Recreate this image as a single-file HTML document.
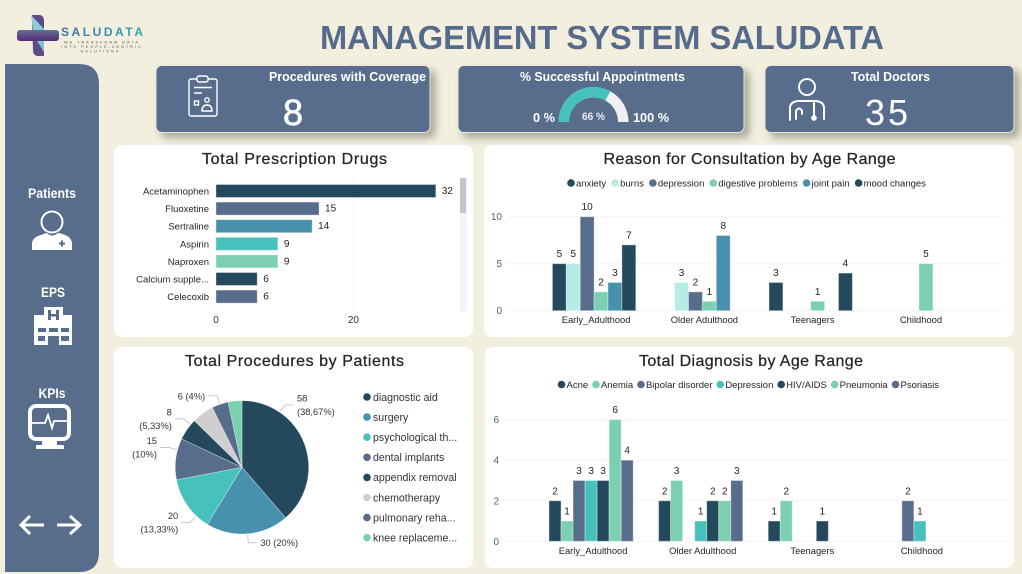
<!DOCTYPE html>
<html lang="en">
<head>
<meta charset="utf-8">
<title>Management System Saludata</title>
<style>
html,body{margin:0;padding:0;background:#f2efdf;width:1022px;height:574px;overflow:hidden}
svg{display:block;font-family:"Liberation Sans",sans-serif}
.card{filter:drop-shadow(5px 5px 4px rgba(70,70,50,.42))}
.nav{fill:#fff;font-size:13.5px;font-weight:bold;text-anchor:middle}
.ct{fill:#252423;font-size:16px;text-anchor:middle;stroke:#252423;stroke-width:.25}
.kt{fill:#fff;font-size:13px;font-weight:bold}
</style>
</head>
<body>
<svg id="dash" xmlns="http://www.w3.org/2000/svg" width="1022" height="574" viewBox="0 0 1022 574">
<defs>
<linearGradient id="crossGrad" x1="0" y1="0" x2="0" y2="1"><stop offset="0" stop-color="#5f7093"/><stop offset="1" stop-color="#5a2a78"/></linearGradient>
<linearGradient id="logoText" x1="0" y1="0" x2="1" y2="0"><stop offset="0" stop-color="#3f6fa8"/><stop offset="1" stop-color="#3aa4b8"/></linearGradient>
</defs>
<rect width="1022" height="574" fill="#f2efdf"/>

<g>
<path d="M32 15H40Q44 16 44 21V56H37Q33 55 33 50Z" fill="#5d4a86"/>
<path d="M31 15 L44 29 V47 L34 33Z" fill="#8ccbd8"/>
<rect x="17" y="30" width="42" height="11" rx="3" fill="url(#crossGrad)"/>
<path d="M37 41 L44 41 L44 52Z" fill="#7fc4d4"/>
<text x="61" y="36" font-size="12" font-weight="bold" fill="url(#logoText)" textLength="82" lengthAdjust="spacing">SALUDATA</text>
<text x="102" y="43.5" font-size="3.8" fill="#555" text-anchor="middle" letter-spacing="2">WE TRANSFORM DATA</text>
<text x="102" y="48" font-size="3.8" fill="#555" text-anchor="middle" letter-spacing="2">INTO PEOPLE-CENTRIC</text>
<text x="102" y="52.5" font-size="3.8" fill="#555" text-anchor="middle" letter-spacing="2">SOLUTIONS.</text>
</g>

<text x="320" y="49" font-size="33" font-weight="bold" fill="#566b8c" textLength="564" lengthAdjust="spacingAndGlyphs">MANAGEMENT SYSTEM SALUDATA</text>

<g>
<path d="M5 64H79Q99 64 99 84V552Q99 572 79 572H5Z" fill="#586c8c"/>
<g>
<text class="nav" x="52" y="198" textLength="48" lengthAdjust="spacingAndGlyphs">Patients</text>
<circle cx="52" cy="222" r="10.5" fill="none" stroke="#fff" stroke-width="2"/>
<path d="M32 250V243Q33 237 41 235Q46 233 47 233Q52 238 58 233Q60 233 65 235Q71 237 72 243V250Z" fill="#fff"/>
<path d="M62 240.5v6M59 243.5h6" stroke="#586c8c" stroke-width="2"/>
</g>
<g>
<text class="nav" x="53" y="297" textLength="24" lengthAdjust="spacingAndGlyphs">EPS</text>
<path fill="#fff" fill-rule="evenodd" d="M44 307H63V315H72V345H59V336H48V345H34V315H44ZM48 310V320H51V316.5H56V320H59V310H56V314H51V310ZM38 328V332H46V328ZM49 328V332H58V328ZM61 328V332H69V328ZM38 336V341H45V336ZM61 336V341H69V336Z"/>
</g>
<g>
<text class="nav" x="52" y="398" textLength="27" lengthAdjust="spacingAndGlyphs">KPIs</text>
<rect x="30" y="406" width="39" height="33" rx="6" fill="none" stroke="#fff" stroke-width="4"/>
<path d="M32 423H45L48 415L52 428L54 421H67" fill="none" stroke="#fff" stroke-width="1.8"/>
<rect x="42" y="441" width="15" height="5" fill="#fff"/>
<rect x="36" y="445" width="28" height="4" rx="1" fill="#fff"/>
</g>
<path d="M44 525H22M30 516L21 525L30 534" fill="none" stroke="#fff" stroke-width="3"/>
<path d="M57 525H79M70 516L80 525L70 534" fill="none" stroke="#fff" stroke-width="3"/>
</g>

<g>
<rect class="card" x="156" y="65.5" width="274" height="67" rx="6" fill="#586c8c" stroke="#e9e6d6"/>
<g fill="none" stroke="#fff" stroke-width="1.4">
<rect x="189" y="79" width="28" height="37" rx="2"/>
<rect x="197" y="76" width="11" height="6" rx="2" fill="#586c8c"/>
<path d="M194 87.5h18M194 93h8"/>
<rect x="194.5" y="101" width="4" height="4"/>
<circle cx="207" cy="100" r="2.2"/>
<path d="M202 111Q202 105 207 105Q212 105 212 111Z"/>
</g>
<text class="kt" x="269" y="81" textLength="157" lengthAdjust="spacingAndGlyphs">Procedures with Coverage</text>
<text x="293" y="125" font-size="36" fill="#fff" stroke="#fff" stroke-width=".7" text-anchor="middle">8</text>
</g>

<g>
<rect class="card" x="458" y="65.5" width="286" height="67" rx="6" fill="#586c8c" stroke="#e9e6d6"/>
<text class="kt" x="520" y="81" textLength="165" lengthAdjust="spacingAndGlyphs">% Successful Appointments</text>
<g id="gauge"></g>
<text x="533" y="122" font-size="12.5" font-weight="bold" fill="#fff" textLength="22" lengthAdjust="spacingAndGlyphs">0 %</text>
<text id="gaugeValue" x="593.5" y="120" font-size="11" font-weight="bold" fill="#e8ecf2" text-anchor="middle" textLength="23" lengthAdjust="spacingAndGlyphs"></text>
<text x="633" y="122" font-size="12.5" font-weight="bold" fill="#fff" textLength="36" lengthAdjust="spacingAndGlyphs">100 %</text>
</g>

<g>
<rect class="card" x="765" y="65.5" width="249" height="67" rx="6" fill="#586c8c" stroke="#e9e6d6"/>
<g fill="none" stroke="#fff" stroke-width="2" stroke-linecap="round">
<circle cx="807" cy="87" r="8"/>
<path d="M790 120V108Q790 102 798 101H816Q824 102 824 108V119"/>
<path d="M796 119V111Q799 106 802 111V114"/>
<path d="M814 101V117"/>
<circle cx="814" cy="118" r="1.8" fill="#fff"/>
</g>
<text class="kt" x="851" y="81" textLength="79" lengthAdjust="spacingAndGlyphs">Total Doctors</text>
<text x="888" y="125" font-size="36" fill="#fff" text-anchor="middle" letter-spacing="3">35</text>
</g>

<rect x="114" y="145" width="359" height="192" rx="8" fill="#fff"/>
<rect x="484" y="145" width="530" height="192" rx="8" fill="#fff"/>
<rect x="114" y="347" width="359" height="221" rx="8" fill="#fff"/>
<rect x="485" y="347" width="529" height="221" rx="8" fill="#fff"/>

<text class="ct" x="294.5" y="164" textLength="185" lengthAdjust="spacing">Total Prescription Drugs</text>
<text class="ct" x="749.5" y="164" textLength="292" lengthAdjust="spacing">Reason for Consultation by Age Range</text>
<text class="ct" x="294.5" y="366" textLength="219" lengthAdjust="spacing">Total Procedures by Patients</text>
<text class="ct" x="751" y="366" textLength="224" lengthAdjust="spacing">Total Diagnosis by Age Range</text>

<rect x="460" y="178" width="7" height="133" fill="#f4f4f4"/>
<rect x="460" y="178" width="6" height="35" fill="#c4c4c4"/>

<g id="drugsChart"></g>
<g id="consultChart"></g>
<g id="procChart"></g>
<g id="diagChart"></g>
</svg>

<script>
// ---------- chart data ----------
const gaugePercent = 66;

const drugNames = ['Acetaminophen','Fluoxetine','Sertraline','Aspirin','Naproxen','Calcium supple...','Celecoxib'];
const drugValues = [32,15,14,9,9,6,6];
const drugTicks = [0,20];

const consultCategories = ['Early_Adulthood','Older Adulthood','Teenagers','Childhood'];
const consultSeriesNames = ['anxiety','burns','depression','digestive problems','joint pain','mood changes'];
const consultAnxiety = [5,null,3,null];
const consultBurns = [5,3,null,null];
const consultDepression = [10,2,null,null];
const consultDigestive = [2,1,1,5];
const consultJointPain = [3,8,null,null];
const consultMoodChanges = [7,null,4,null];
const consultTicks = [0,5,10];

const diagCategories = ['Early_Adulthood','Older Adulthood','Teenagers','Childhood'];
const diagSeriesNames = ['Acne','Anemia','Bipolar disorder','Depression','HIV/AIDS','Pneumonia','Psoriasis'];
const diagAcne = [2,2,1,null];
const diagAnemia = [1,3,2,null];
const diagBipolar = [3,null,null,2];
const diagDepression = [3,1,null,1];
const diagHiv = [3,2,1,null];
const diagPneumonia = [6,2,null,null];
const diagPsoriasis = [4,3,null,null];
const diagTicks = [0,2,4,6];

const procNames = ['diagnostic aid','surgery','psychological th...','dental implants','appendix removal','chemotherapy','pulmonary reha...','knee replaceme...'];
const procValues = [58,30,20,15,8,8,6,5];
const procLabelLines = [['58','(38,67%)'],['30 (20%)'],['20','(13,33%)'],['15','(10%)'],['8','(5,33%)'],null,['6 (4%)'],null];

// ---------- palette and helpers ----------
const DARK='#24495c', SLATE='#586c8c', BLUE='#4790ae', TURQ='#47c1bb', MINT='#7ad0b0', PALE='#b5ece6', GREY='#cfcfcf';
const NS='http://www.w3.org/2000/svg';
function mk(parent,tag,attrs,txt){
  const e=document.createElementNS(NS,tag);
  for(const k in attrs)e.setAttribute(k,attrs[k]);
  if(txt!==undefined)e.textContent=txt;
  parent.appendChild(e);
  return e;
}

// ---------- gauge ----------
(function(){
  const g=document.getElementById('gauge');
  const cx=593.5,cy=122,ro=35,ri=24.5;
  function arc(a0,a1){
    const p=(r,a)=>[cx-r*Math.cos(a),cy-r*Math.sin(a)];
    const [x0,y0]=p(ro,a0),[x1,y1]=p(ro,a1),[x2,y2]=p(ri,a1),[x3,y3]=p(ri,a0);
    return `M${x0} ${y0}A${ro} ${ro} 0 0 1 ${x1} ${y1}L${x2} ${y2}A${ri} ${ri} 0 0 0 ${x3} ${y3}Z`;
  }
  const track=mk(g,'path',{d:arc(0,Math.PI),fill:'#f1efef'});
  
  
  const fill=mk(g,'path',{d:arc(0,Math.PI*gaugePercent/100),fill:TURQ});
  
  
  document.getElementById('gaugeValue').textContent=gaugePercent+' %';
})();

// ---------- horizontal bar chart ----------
(function(){
  const g=document.getElementById('drugsChart');
  const colors=[DARK,SLATE,BLUE,TURQ,MINT,DARK,SLATE];
  const x=v=>216+v*6.87;
  const rowY=i=>191+i*17.6;
  drugTicks.forEach(t=>{
    const l=mk(g,'line',{x1:x(t),x2:x(t),y1:178,y2:308,stroke:'#d4d4d4','stroke-dasharray':'1 3'});
    
    
    const tx=mk(g,'text',{x:x(t),y:323,'font-size':10,fill:'#333','text-anchor':'middle'},t);
    
    
  });
  drugValues.forEach((v,i)=>{
    const lab=mk(g,'text',{x:209,y:rowY(i)+3.5,'font-size':9.5,fill:'#252423','text-anchor':'end'},drugNames[i]);
    
    
    const r=mk(g,'rect',{x:x(0),y:rowY(i)-6.5,width:x(v)-x(0),height:13,fill:colors[i],stroke:'#fff','stroke-opacity':.35});
    
    
    const val=mk(g,'text',{x:x(v)+6,y:rowY(i)+3,'font-size':10,fill:'#252423'},v);
    
    
  });
})();

// ---------- grouped column charts ----------
function drawColumns(g,cfg){
  const y=v=>cfg.y0-v*cfg.unit;
  cfg.ticks.forEach(t=>{
    const l=mk(g,'line',{x1:cfg.gridX0,x2:cfg.gridX1,y1:y(t),y2:y(t),stroke:'#d4d4d4','stroke-dasharray':'1 3'});
    
    
    const tx=mk(g,'text',{x:cfg.tickX,y:y(t)+3.5,'font-size':10,fill:'#605e5c','text-anchor':'end'},t);
    
    
  });
  cfg.categories.forEach((c,ci)=>{
    const start=cfg.startX+ci*cfg.step;
    const cat=mk(g,'text',{x:start+cfg.barW*cfg.series.length/2+cfg.catShift,y:cfg.y0+cfg.catDy,'font-size':9.4,fill:'#252423','text-anchor':'middle'},c);
    
    
    cfg.series.forEach((s,si)=>{
      const v=s[ci];
      if(v===null)return;
      const bx=start+si*cfg.barW;
      const r=mk(g,'rect',{x:bx,y:y(v),width:cfg.barW,height:y(0)-y(v),fill:cfg.colors[si],stroke:'#fff','stroke-opacity':.35});
      
      
      const t=mk(g,'text',{x:bx+cfg.barW/2,y:y(v)-6.5,'font-size':10,fill:'#252423','text-anchor':'middle'},v);
      
      
    });
  });
  let lx=cfg.legendX;
  cfg.names.forEach((n,i)=>{
    const d=mk(g,'circle',{cx:lx,cy:cfg.legendY,r:3.8,fill:cfg.colors[i]});
    
    
    const t=mk(g,'text',{x:lx+5,y:cfg.legendY+3.3,'font-size':cfg.legendFont,fill:'#252423'},n);
    
    
    lx+=5+t.getComputedTextLength()+cfg.legendGap;
  });
}
drawColumns(document.getElementById('consultChart'),{
  categories:consultCategories,names:consultSeriesNames,
  series:[consultAnxiety,consultBurns,consultDepression,consultDigestive,consultJointPain,consultMoodChanges],
  ticks:consultTicks,colors:[DARK,PALE,SLATE,MINT,BLUE,DARK],
  y0:310.7,unit:9.4,startX:552.4,step:108.3,barW:13.9,catShift:2,catDy:12.5,
  gridX0:509,gridX1:1004,tickX:502,legendX:571,legendY:183,legendFont:9.5,legendGap:9
});
drawColumns(document.getElementById('diagChart'),{
  categories:diagCategories,names:diagSeriesNames,
  series:[diagAcne,diagAnemia,diagBipolar,diagDepression,diagHiv,diagPneumonia,diagPsoriasis],
  ticks:diagTicks,colors:[DARK,MINT,SLATE,TURQ,DARK,MINT,SLATE],
  y0:541.3,unit:20.27,startX:549,step:109.6,barW:12.03,catShift:2,catDy:12.5,
  gridX0:505,gridX1:1008,tickX:499,legendX:561.5,legendY:384.5,legendFont:9.5,legendGap:7.8
});

// ---------- pie chart ----------
(function(){
  const g=document.getElementById('procChart');
  const colors=[DARK,BLUE,TURQ,SLATE,DARK,GREY,SLATE,MINT];
  const leaderShift=[-35,0,-12,8,5,0,0,0];
  const cx=242,cy=467.3,R=66.7;
  const total=procValues.reduce((a,b)=>a+b,0);
  const pt=(r,deg)=>[cx+r*Math.sin(deg*Math.PI/180),cy-r*Math.cos(deg*Math.PI/180)];
  let cum=0;
  procValues.forEach((v,i)=>{
    const a0=cum/total*360, a1=(cum+v)/total*360;
    cum+=v;
    const [x0,y0]=pt(R,a0),[x1,y1]=pt(R,a1);
    const s=mk(g,'path',{d:`M${cx} ${cy}L${x0} ${y0}A${R} ${R} 0 ${a1-a0>180?1:0} 1 ${x1} ${y1}Z`,fill:colors[i],stroke:'#fff','stroke-opacity':.5,'stroke-width':.6});
    
    
    const lines=procLabelLines[i];
    if(lines){
      const b=(a0+a1)/2+leaderShift[i];
      const [sx,sy]=pt(R+1,b),[ex,ey]=pt(R+9,b);
      const right=Math.sin(b*Math.PI/180)>=0;
      const hx=ex+(right?9:-9);
      const ld=mk(g,'path',{d:`M${sx} ${sy}L${ex} ${ey}H${hx}`,fill:'none',stroke:'#c8c8c8','stroke-width':1});
      
      
      lines.forEach((ln,k)=>{
        const ty=ey+3.5+(k-(lines.length-1)/2)*13.5;
        const t=mk(g,'text',{x:hx+(right?3:-3),y:ty,'font-size':9.3,fill:'#333','text-anchor':right?'start':'end'},ln);
        
        
      });
    }
    const ly=397+i*20.1;
    const d=mk(g,'circle',{cx:367,cy:ly,r:3.8,fill:colors[i]});
    
    
    const t=mk(g,'text',{x:373,y:ly+3.8,'font-size':10.6,fill:'#333'},procNames[i]);
    
    
  });
})();
</script>
</body>
</html>
